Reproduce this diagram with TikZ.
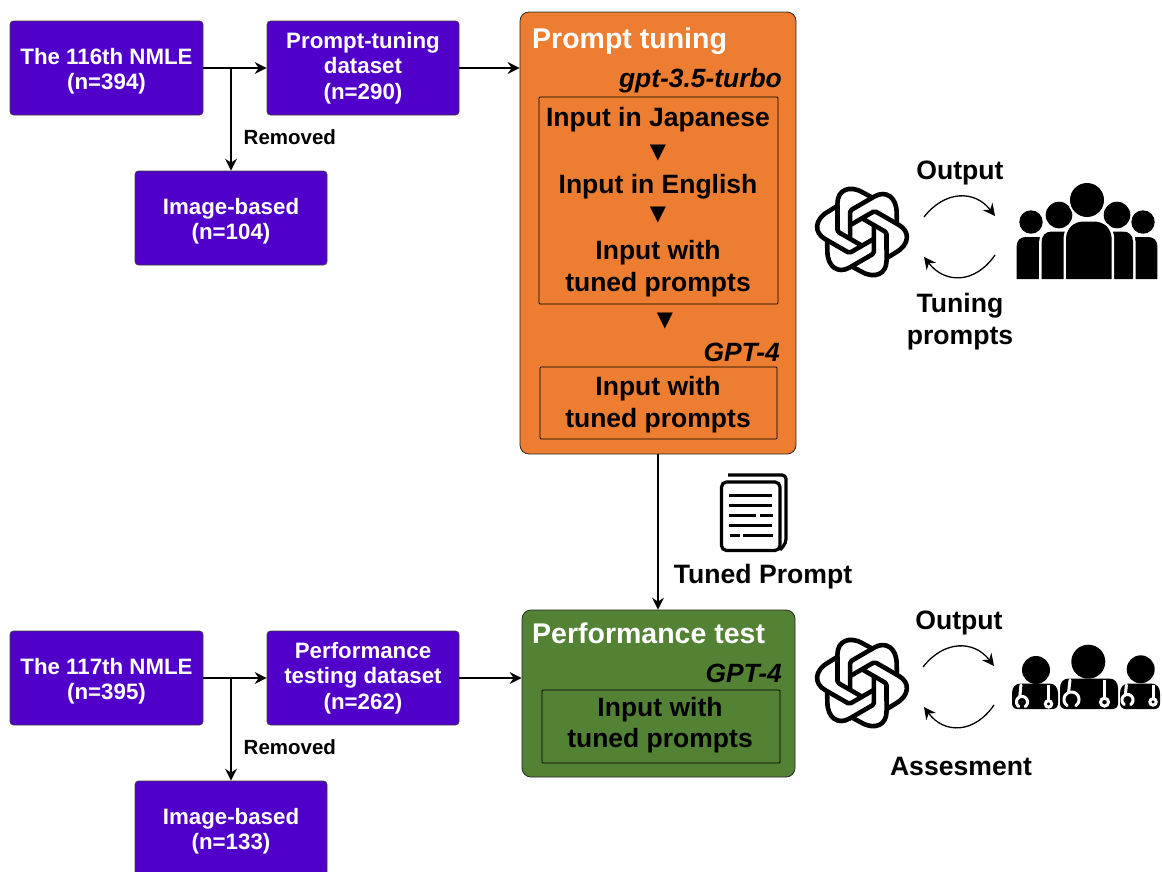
\documentclass[tikz,border=0pt]{standalone}
\usepackage{fontspec}
\setmainfont{Liberation Sans}
\newfontfamily\symfont{DejaVu Sans}
\usetikzlibrary{arrows.meta,calc}
\definecolor{purplebox}{HTML}{5000C8}
\definecolor{orangebox}{HTML}{ED7D31}
\definecolor{greenbox}{HTML}{548235}
\newcommand\fs[2]{\fontsize{#1}{#2}\selectfont}
\newcommand\twolines[2]{\rule{0pt}{23pt}#1\\#2}
\newcommand\openlogo[2]{%
  \foreach \a in {0,60,...,300}{%
    \draw[line width=4.6pt,line join=round,shift={(#1,#2)},rotate=\a,scale=0.97]
      (-25.3,-27) -- (-35,-21) .. controls (-49,-13) and (-50,0.5) .. (-38,7.3)
      -- (-14.5,20.8) .. controls (-13,21.7) and (-13,21.7) .. (-11.5,20.8) -- (12.2,7.1);
  }}
% x1 x2 top bottom radius
\newcommand\bodyshape[5]{%
  \def\bpath{(#1,#4) -- (#1,#3+#5) .. controls (#1,#3+#5*0.4) and (#1+#5*0.4,#3) .. (#1+#5,#3)
     -- (#2-#5,#3) .. controls (#2-#5*0.4,#3) and (#2,#3+#5*0.4) .. (#2,#3+#5) -- (#2,#4) -- cycle}%
  \draw[white,line width=5pt] \bpath;
  \fill[black] \bpath;}
\newcommand\headshape[3]{\fill[white] (#1,#2) circle[radius=#3+2]; \fill[black] (#1,#2) circle[radius=#3];}
% x1 x2 top bottom | ring x, ring y, ring r | stem x, dot r
\newcommand\docbody[9]{%
  \fill[black] (#1+9,#3) -- (#2-9,#3) .. controls (#2-3,#3) and (#2,#3+4) .. (#2,#3+10) -- (#2,#4-6)
     .. controls (#2,#4-2) and (#2-2,#4) .. (#2-6,#4) -- (#1+6,#4) .. controls (#1+2,#4) and (#1,#4-2) .. (#1,#4-6)
     -- (#1,#3+10) .. controls (#1,#3+4) and (#1+3,#3) .. (#1+9,#3) -- cycle;
  \draw[white,line width=3pt,line cap=round] (#5-#7*0.2,#3+1.5) -- (#5-#7*0.4,#6-#7*0.9);
  \draw[white,line width=3pt,smooth,line cap=round] plot[domain=125:415,samples=36] ({#5+#7*cos(\x)},{#6+#7*sin(\x)});
  \draw[white,line width=3pt] (#8,#3+1) -- (#8,#6);
  \fill[black,draw=white,line width=3pt] (#8,#6+#7*0.35) circle[radius=#9];}
\tikzset{
  purplenode/.style={draw=black!75,line width=0.7pt,fill=purplebox,rounded corners=3.5pt,text=white,font=\bfseries\fs{22.3}{25.3},align=center,inner sep=0pt},
  panel/.style={draw=black!85,line width=0.8pt,rounded corners=9pt},
  innerframe/.style={draw=black,line width=0.8pt,rounded corners=1pt},
  paneltitle/.style={text=white,font=\bfseries\fs{28.5}{32},anchor=base west,inner sep=0pt},
  model/.style={font=\bfseries\itshape\fs{26.4}{30},anchor=base east,inner sep=0pt},
  stepline/.style={font=\bfseries\fs{26.5}{32},align=center,inner sep=0pt},
  caption/.style={font=\bfseries\fs{26.6}{32},align=center,inner sep=0pt},
  removed/.style={font=\bfseries\fs{20.5}{24},inner sep=0pt},
  tri/.style={font=\symfont\fs{21}{24},inner sep=0pt},
  flow/.style={draw=black,line width=1.3pt,-{Stealth[length=12pt,width=12pt,inset=4pt]}},
  cyc/.style={draw=black,line width=1.3pt,-{Stealth[length=12pt,width=12pt,inset=4pt]}},
  docline/.style={line width=3pt,black}
}
\begin{document}
\begin{tikzpicture}[x=1pt,y=-1pt]
\useasboundingbox (0,0) rectangle (1162,871);
\begin{scope}
\clip (0,0) rectangle (1162,871);

% left boxes, top row
\node[purplenode,minimum width=193pt,minimum height=94pt] (nmleA) at (106.5,68) {\twolines{The 116th NMLE}{(n=394)}};
\node[purplenode,minimum width=192pt,minimum height=94pt] (tuneset) at (363,68) {Prompt-tuning\\dataset\\(n=290)};
\node[purplenode,minimum width=192pt,minimum height=94pt] (imgA) at (231,218) {\twolines{Image-based}{(n=104)}};
% left boxes, bottom row
\node[purplenode,minimum width=193pt,minimum height=94pt] (nmleB) at (106.5,678) {\twolines{The 117th NMLE}{(n=395)}};
\node[purplenode,minimum width=192pt,minimum height=94pt] (testset) at (363,678) {Performance\\testing dataset\\(n=262)};
\node[purplenode,minimum width=192pt,minimum height=94pt] (imgB) at (231,828) {\twolines{Image-based}{(n=133)}};

% panels
\node[panel,fill=orangebox,minimum width=276pt,minimum height=442pt,inner sep=0pt] (tuning) at (658,233) {};
\node[panel,fill=greenbox,minimum width=273pt,minimum height=167pt,inner sep=0pt] (perf) at (658.5,693.5) {};
\node[innerframe,minimum width=239pt,minimum height=207pt,inner sep=0pt] (seq) at (658.5,200.5) {};
\node[innerframe,minimum width=237pt,minimum height=72pt,inner sep=0pt] (gptbox) at (658.5,403) {};
\node[innerframe,minimum width=238pt,minimum height=73pt,inner sep=0pt] (testbox) at (661,726.5) {};

\node[paneltitle] (tt) at (532,48.5) {Prompt tuning};
\node[paneltitle] (pt) at (532,643.5) {Performance test};
\node[model] (m1) at (782,87) {gpt-3.5-turbo};
\node[model] (m2) at (780,361) {GPT-4};
\node[model] (m3) at (782,682) {GPT-4};
\node[stepline] (s1) at (658,120) {Input in Japanese};
\node[tri] (t1) at (658,153) {▼};
\node[stepline] (s2) at (658,186.5) {Input in English};
\node[tri] (t2) at (658,215) {▼};
\node[stepline] (s3) at (658,269) {Input with\\tuned prompts};
\node[tri] (t3) at (665,321) {▼};
\node[stepline] (s4) at (658,405) {Input with\\tuned prompts};
\node[stepline,font=\bfseries\fs{26.5}{31}] (s5) at (660,725) {Input with\\tuned prompts};

% connectors
\coordinate (jA) at (231,68);
\coordinate (jB) at (231,678);
\draw[flow] (nmleA.east) -- (tuneset.west);
\draw[flow] (jA) -- (imgA.north);
\draw[flow] (tuneset.east) -- (tuneset.east -| tuning.west);
\draw[flow] (nmleB.east) -- (testset.west);
\draw[flow] (jB) -- (imgB.north);
\draw[flow] (testset.east) -- (testset.east -| perf.west);
\draw[flow,line width=1.1pt] (tuning.south) -- (tuning.south |- perf.north);
\node[removed,anchor=west] (ra) at (243.5,137) {Removed};
\node[removed,anchor=west] (rb) at (243.5,747) {Removed};

% document icon
\draw[line width=3.2pt,rounded corners=4pt] (728,475) -- (786,475) -- (786,543) -- (780,550);
\draw[line width=3.2pt,fill=white,rounded corners=5pt] (721.5,482) rectangle (780,550.5);
\draw[docline] (729,495) -- (772,495);
\draw[docline] (729,505) -- (772,505);
\draw[docline] (729,515) -- (756,515);
\draw[docline] (760,515) -- (773,515);
\draw[docline] (729,525) -- (772,525);
\draw[docline] (730,535) -- (740,535);
\draw[docline] (743,535) -- (773,535);
\node[caption] (tp) at (763,577) {Tuned Prompt};

% upper feedback loop
\openlogo{862}{232}
\coordinate (a1) at (924,217); \coordinate (a2) at (995,216);
\coordinate (a3) at (995,255); \coordinate (a4) at (924,257);
\draw[cyc] (a1) .. controls (945,190) and (975,190) .. (a2);
\draw[cyc] (a3) .. controls (975,284) and (945,284) .. (a4);
\node[caption] (o1) at (960,173) {Output};
\node[caption] (t4) at (960,322) {Tuning\\prompts};

% group icon
\bodyshape{1016.7}{1050}{237}{279}{9}
\bodyshape{1125}{1157.3}{237}{279}{9}
\headshape{1031}{222}{11.7}
\headshape{1143}{222}{11.7}
\bodyshape{1041.7}{1075}{231.5}{279}{10}
\bodyshape{1100}{1133}{231.5}{279}{10}
\headshape{1059}{215}{13.3}
\headshape{1117}{215}{13.3}
\bodyshape{1066}{1111.7}{221.5}{279}{18}
\headshape{1087}{200}{17}

% lower feedback loop
\openlogo{862}{683}
\coordinate (b1) at (923,667); \coordinate (b2) at (994,666);
\coordinate (b3) at (994,705); \coordinate (b4) at (924,707);
\draw[cyc] (b1) .. controls (944,640) and (974,640) .. (b2);
\draw[cyc] (b3) .. controls (974,734) and (944,734) .. (b4);
\node[caption] (o2) at (959,623) {Output};
\node[caption] (as) at (961,766.5) {Assesment};

% doctors icon
\fill (1036,670) circle[radius=14];
\fill (1088.3,661.7) circle[radius=17];
\fill (1140.7,669.3) circle[radius=14];
\docbody{1012}{1058}{683.5}{709}{1022}{702}{5.5}{1048.5}{3.2}
\docbody{1060}{1118}{678.5}{709}{1071.5}{699.5}{7.5}{1104.5}{4}
\docbody{1120}{1160}{683.5}{709}{1127.5}{700}{5.5}{1153}{3.2}
\end{scope}
\end{tikzpicture}
\end{document}
